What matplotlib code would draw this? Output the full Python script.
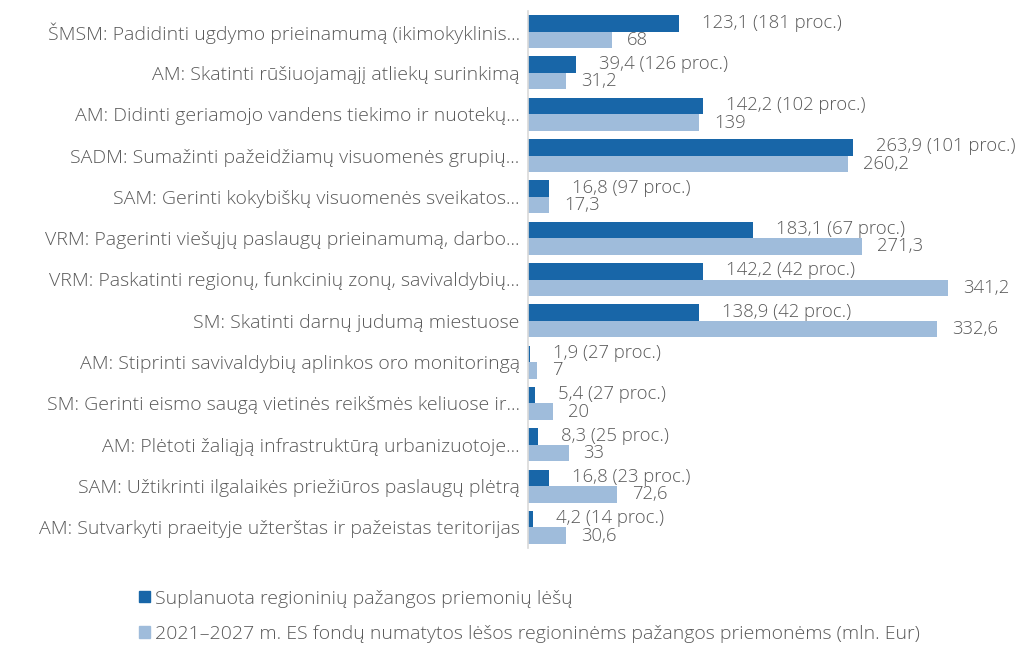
import numpy as np
import matplotlib.pyplot as plt
from matplotlib.patches import Patch
from matplotlib.transforms import offset_copy

plt.rcParams['font.family'] = ['Open Sans', 'DejaVu Sans']

# duomenys
kategorijos = [
    "ŠMSM: Padidinti ugdymo prieinamumą (ikimokyklinis...",
    "AM: Skatinti rūšiuojamąjį atliekų surinkimą",
    "AM: Didinti geriamojo vandens tiekimo ir nuotekų...",
    "SADM: Sumažinti pažeidžiamų visuomenės grupių...",
    "SAM: Gerinti kokybiškų visuomenės sveikatos...",
    "VRM: Pagerinti viešųjų paslaugų prieinamumą, darbo...",
    "VRM: Paskatinti regionų, funkcinių zonų, savivaldybių...",
    "SM: Skatinti darnų judumą miestuose",
    "AM: Stiprinti savivaldybių aplinkos oro monitoringą",
    "SM: Gerinti eismo saugą vietinės reikšmės keliuose ir...",
    "AM: Plėtoti žaliąją infrastruktūrą urbanizuotoje...",
    "SAM: Užtikrinti ilgalaikės priežiūros paslaugų plėtrą",
    "AM: Sutvarkyti praeityje užterštas ir pažeistas teritorijas",
]
suplanuota = [123.1, 39.4, 142.2, 263.9, 16.8, 183.1, 142.2, 138.9, 1.9, 5.4, 8.3, 16.8, 4.2]
procentai = [181, 126, 102, 101, 97, 67, 42, 42, 27, 27, 25, 23, 14]
numatyta = [68, 31.2, 139, 260.2, 17.3, 271.3, 341.2, 332.6, 7, 20, 33, 72.6, 30.6]

tamsi = '#1866a8'
sviesi = '#9fbcdb'
teksto = '#595959'
dydis = 14


def fmt(v):
    return f"{v:g}".replace('.', ',')


fig = plt.figure(figsize=(10.2, 6.46), dpi=100)
ax = fig.add_axes([528 / 1020, 1 - 548 / 646, 0.97 - 528 / 1020, (548 - 11) / 646])

y = np.arange(len(kategorijos))
h = 0.4
ax.barh(y - h / 2, suplanuota, height=h, color=tamsi)
ax.barh(y + h / 2, numatyta, height=h, color=sviesi)

tr1 = offset_copy(ax.transData, fig=fig, x=23, y=0, units='dots')
tr2 = offset_copy(ax.transData, fig=fig, x=15, y=0, units='dots')
for i in range(len(kategorijos)):
    ax.text(suplanuota[i], y[i] - h / 2 - 0.02, f"{fmt(suplanuota[i])} ({procentai[i]} proc.)",
            transform=tr1, va='center', ha='left', fontsize=13.3, color=teksto, fontweight='light')
    ax.text(numatyta[i], y[i] + h / 2, fmt(numatyta[i]),
            transform=tr2, va='center', ha='left', fontsize=13.3, color=teksto, fontweight='light')

ax.set_xlim(0, 375)
ax.set_ylim(len(kategorijos) - 0.5, -0.5)
ax.set_yticks(y)
ax.set_yticklabels(kategorijos, fontsize=dydis, color=teksto, fontweight='light')
ax.tick_params(axis='y', length=0, pad=6)
ax.set_xticks([])
for s in ['top', 'right', 'bottom']:
    ax.spines[s].set_visible(False)
ax.spines['left'].set_color('#d9d9d9')
ax.spines['left'].set_linewidth(1.2)

rankenos = [Patch(color=tamsi), Patch(color=sviesi)]
fig.legend(rankenos,
           ["Suplanuota regioninių pažangos priemonių lėšų",
            "2021–2027 m. ES fondų numatytos lėšos regioninėms pažangos priemonėms (mln. Eur)"],
           loc='upper left', bbox_to_anchor=(122 / 1020, 1 - 572 / 646), frameon=False,
           handlelength=0.55, handleheight=0.55, handletextpad=0.25, labelspacing=0.9,
           prop={'size': dydis, 'weight': 'light'}, labelcolor=teksto)

fig.savefig('out.png', dpi=100)
